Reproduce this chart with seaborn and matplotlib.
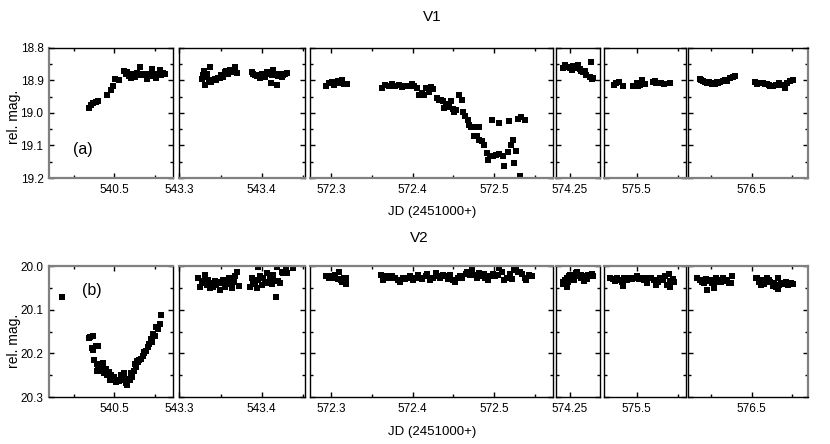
import numpy as np
import pandas as pd
import matplotlib
matplotlib.use('Agg')
import matplotlib.pyplot as plt
import seaborn as sns

# light curves (JD - 2451000, relative magnitude)
v1_t_540 = [540.469, 540.471, 540.474, 540.477, 540.480, 540.491, 540.496, 540.498, 540.501, 540.506,
            540.512, 540.514, 540.516, 540.518, 540.520, 540.522, 540.524, 540.526, 540.528, 540.530,
            540.532, 540.534, 540.536, 540.538, 540.540, 540.542, 540.544, 540.546, 540.548, 540.550,
            540.552, 540.554, 540.556, 540.558, 540.560, 540.562]
v1_m_540 = [18.985, 18.975, 18.970, 18.968, 18.963, 18.945, 18.930, 18.918, 18.895, 18.900,
            18.872, 18.880, 18.875, 18.888, 18.893, 18.880, 18.885, 18.890, 18.878, 18.885,
            18.858, 18.882, 18.884, 18.880, 18.897, 18.885, 18.880, 18.865, 18.888, 18.885,
            18.893, 18.880, 18.868, 18.885, 18.878, 18.882]

v1_t_543 = [543.327, 543.329, 543.330, 543.331, 543.333, 543.334, 543.336, 543.337, 543.339, 543.341,
            543.343, 543.345, 543.347, 543.349, 543.351, 543.353, 543.355, 543.357, 543.359, 543.362,
            543.364, 543.366, 543.368, 543.370,
            543.388, 543.390, 543.392, 543.394, 543.396, 543.398, 543.400, 543.402, 543.404, 543.406,
            543.408, 543.410, 543.411, 543.413, 543.414, 543.416, 543.417, 543.418, 543.420, 543.422,
            543.424, 543.426, 543.428, 543.431]
v1_m_543 = [18.897, 18.885, 18.873, 18.914, 18.890, 18.881, 18.900, 18.858, 18.904, 18.899,
            18.895, 18.899, 18.893, 18.894, 18.885, 18.889, 18.876, 18.872, 18.880, 18.868,
            18.875, 18.870, 18.860, 18.877,
            18.876, 18.880, 18.884, 18.888, 18.883, 18.892, 18.880, 18.885, 18.890, 18.876,
            18.882, 18.879, 18.907, 18.884, 18.868, 18.880, 18.885, 18.914, 18.888, 18.882,
            18.890, 18.884, 18.880, 18.879]

v1_t_572 = [572.294, 572.298, 572.301, 572.304, 572.308, 572.310, 572.313, 572.316, 572.320,
            572.362, 572.366, 572.371, 572.375, 572.379, 572.383, 572.387, 572.391, 572.395, 572.399,
            572.402, 572.405, 572.408, 572.411, 572.414, 572.416, 572.420, 572.422, 572.425,
            572.4294, 572.4319, 572.4348, 572.4368, 572.4389, 572.4409, 572.4429, 572.4450, 572.4470,
            572.4491, 572.4511, 572.4532, 572.4564, 572.4605, 572.4613, 572.4642, 572.4675, 572.4695,
            572.4716, 572.4744, 572.4777, 572.4810, 572.4757, 572.4785, 572.4818, 572.4847, 572.4879,
            572.4908, 572.4924, 572.4949, 572.4982, 572.5022, 572.5063, 572.5104, 572.5125, 572.5166,
            572.5207, 572.5227, 572.5247, 572.5268, 572.5317, 572.4973, 572.5063, 572.5186, 572.5288,
            572.5329, 572.5382]
v1_m_572 = [18.919, 18.909, 18.904, 18.914, 18.901, 18.909, 18.899, 18.912, 18.912,
            18.924, 18.914, 18.919, 18.911, 18.917, 18.914, 18.921, 18.919, 18.917, 18.911,
            18.919, 18.924, 18.945, 18.940, 18.945, 18.924, 18.935, 18.921, 18.927,
            18.955, 18.960, 18.962, 18.965, 18.986, 18.972, 18.978, 18.982, 18.965,
            18.989, 18.996, 18.991, 18.945, 18.960, 18.996, 19.011, 19.023, 19.036,
            19.042, 19.044, 19.044, 19.044, 19.070, 19.072, 19.082, 19.087, 19.098,
            19.123, 19.144, 19.133, 19.131, 19.128, 19.125, 19.131, 19.162, 19.121,
            19.098, 19.082, 19.154, 19.118, 19.195, 19.021, 19.031, 19.026, 19.019,
            19.013, 19.021]

v1_t_574 = [574.242, 574.244, 574.247, 574.250, 574.252, 574.254, 574.257, 574.260, 574.262, 574.264,
            574.266, 574.268, 574.270, 574.274, 574.277, 574.278, 574.276, 574.245, 574.255]
v1_m_574 = [18.863, 18.853, 18.858, 18.863, 18.868, 18.856, 18.858, 18.853, 18.866, 18.873,
            18.876, 18.870, 18.884, 18.889, 18.897, 18.894, 18.843, 18.860, 18.862]

v1_t_575 = [575.472, 575.475, 575.478, 575.483, 575.495, 575.500, 575.502, 575.504, 575.506, 575.510,
            575.520, 575.522, 575.524, 575.530, 575.533, 575.541]
v1_m_575 = [18.914, 18.909, 18.904, 18.917, 18.919, 18.909, 18.917, 18.914, 18.899, 18.911,
            18.904, 18.901, 18.907, 18.909, 18.911, 18.907]

v1_t_576 = [576.436, 576.438, 576.440, 576.442, 576.445, 576.447, 576.449, 576.451, 576.453, 576.455,
            576.457, 576.459, 576.461, 576.464, 576.467, 576.470, 576.473, 576.477, 576.479,
            576.504, 576.507, 576.510, 576.514, 576.517, 576.519, 576.521, 576.523, 576.526, 576.530,
            576.534, 576.538, 576.541, 576.544, 576.547, 576.551]
v1_m_576 = [18.897, 18.899, 18.901, 18.904, 18.907, 18.905, 18.909, 18.911, 18.907, 18.911,
            18.905, 18.907, 18.904, 18.902, 18.899, 18.901, 18.894, 18.891, 18.887,
            18.904, 18.911, 18.909, 18.907, 18.911, 18.912, 18.915, 18.917, 18.919, 18.914,
            18.907, 18.914, 18.924, 18.907, 18.901, 18.899]

v2_t_540 = [540.435, 540.468, 540.470, 540.474, 540.472, 540.474, 540.477, 540.480, 540.475, 540.478,
            540.480, 540.482, 540.484, 540.486, 540.487, 540.489, 540.491, 540.493, 540.494, 540.496,
            540.498, 540.500, 540.502, 540.504, 540.506, 540.508, 540.510, 540.512, 540.514, 540.515,
            540.517, 540.519, 540.521, 540.522, 540.524, 540.525, 540.527, 540.529, 540.531, 540.533,
            540.535, 540.537, 540.539, 540.541, 540.543, 540.545, 540.547, 540.548, 540.550, 540.552,
            540.554, 540.556, 540.558, 540.479, 540.490, 540.509, 540.520, 540.528, 540.536]
v2_m_540 = [20.072, 20.165, 20.163, 20.160, 20.188, 20.193, 20.183, 20.183, 20.215, 20.225,
            20.235, 20.228, 20.240, 20.222, 20.245, 20.235, 20.250, 20.243, 20.260, 20.250,
            20.262, 20.255, 20.265, 20.260, 20.263, 20.250, 20.255, 20.245, 20.268, 20.272,
            20.258, 20.262, 20.250, 20.255, 20.240, 20.225, 20.232, 20.220, 20.215, 20.212,
            20.205, 20.200, 20.195, 20.185, 20.178, 20.168, 20.175, 20.155, 20.160, 20.140,
            20.145, 20.132, 20.112, 20.240, 20.238, 20.262, 20.245, 20.218, 20.198]

v2_t_543 = [543.323, 543.325, 543.327, 543.329, 543.331, 543.333, 543.335, 543.337, 543.339, 543.341,
            543.343, 543.345, 543.347, 543.349, 543.351, 543.353, 543.355, 543.357, 543.360, 543.362,
            543.364, 543.366, 543.368, 543.370, 543.372,
            543.386, 543.388, 543.390, 543.392, 543.394, 543.396, 543.398, 543.400, 543.402, 543.404,
            543.406, 543.408, 543.410, 543.412, 543.414, 543.416, 543.417, 543.418, 543.420, 543.422,
            543.424, 543.426, 543.430, 543.431, 543.438, 543.396]
v2_m_543 = [20.028, 20.047, 20.034, 20.040, 20.021, 20.043, 20.032, 20.051, 20.040, 20.047,
            20.034, 20.043, 20.036, 20.055, 20.040, 20.032, 20.047, 20.036, 20.028, 20.042,
            20.051, 20.036, 20.024, 20.013, 20.045,
            20.047, 20.028, 20.036, 20.042, 20.051, 20.032, 20.024, 20.043, 20.028, 20.036,
            20.017, 20.040, 20.030, 20.042, 20.021, 20.034, 20.070, 20.002, 20.034, 20.040,
            20.013, 20.017, 20.009, 20.017, 20.005, 20.002]

v2_t_572 = [572.294, 572.298, 572.301, 572.303, 572.305, 572.308, 572.310, 572.312, 572.314, 572.316,
            572.318, 572.319,
            572.361, 572.364, 572.366, 572.369, 572.372, 572.375, 572.379, 572.382, 572.384, 572.388,
            572.391, 572.394, 572.397, 572.400, 572.403, 572.406, 572.409, 572.412, 572.416, 572.418,
            572.421, 572.425, 572.428, 572.431, 572.434, 572.437, 572.440, 572.443, 572.446, 572.449,
            572.452, 572.455, 572.458, 572.461, 572.465, 572.467, 572.470, 572.473, 572.476, 572.479,
            572.481, 572.484, 572.487, 572.489, 572.492, 572.495, 572.498, 572.501, 572.504, 572.506,
            572.510, 572.512, 572.515, 572.519, 572.522, 572.524, 572.527, 572.529, 572.531, 572.534,
            572.537, 572.539, 572.542, 572.546]
v2_m_572 = [20.024, 20.027, 20.022, 20.028, 20.021, 20.030, 20.013, 20.032, 20.036, 20.028,
            20.042, 20.027,
            20.021, 20.032, 20.028, 20.024, 20.028, 20.022, 20.027, 20.032, 20.036, 20.028,
            20.030, 20.027, 20.024, 20.032, 20.028, 20.021, 20.028, 20.030, 20.024, 20.019,
            20.032, 20.028, 20.017, 20.024, 20.028, 20.021, 20.024, 20.030, 20.021, 20.032,
            20.037, 20.028, 20.024, 20.027, 20.019, 20.013, 20.021, 20.007, 20.021, 20.028,
            20.017, 20.022, 20.019, 20.027, 20.032, 20.022, 20.019, 20.024, 20.021, 20.004,
            20.013, 20.032, 20.027, 20.019, 20.030, 20.009, 20.004, 20.013, 20.014, 20.019,
            20.028, 20.032, 20.021, 20.024]

v2_t_574 = [574.241, 574.242, 574.244, 574.246, 574.246, 574.247, 574.249, 574.250, 574.252, 574.254,
            574.255, 574.257, 574.259, 574.260, 574.263, 574.264, 574.267, 574.268, 574.271, 574.272,
            574.275, 574.277, 574.278]
v2_m_574 = [20.036, 20.042, 20.032, 20.028, 20.047, 20.037, 20.024, 20.021, 20.030, 20.027,
            20.032, 20.017, 20.013, 20.024, 20.028, 20.021, 20.034, 20.024, 20.030, 20.021,
            20.024, 20.019, 20.022]

v2_t_575 = [575.468, 575.471, 575.474, 575.476, 575.479, 575.482, 575.483, 575.485, 575.488, 575.491,
            575.494, 575.497, 575.500, 575.503, 575.506, 575.509, 575.513, 575.514, 575.517, 575.521,
            575.524, 575.526, 575.529, 575.532, 575.535, 575.537, 575.539, 575.541, 575.544, 575.546,
            575.540]
v2_m_575 = [20.028, 20.030, 20.034, 20.027, 20.032, 20.037, 20.045, 20.028, 20.032, 20.027,
            20.030, 20.028, 20.024, 20.030, 20.027, 20.032, 20.040, 20.028, 20.027, 20.032,
            20.043, 20.036, 20.028, 20.032, 20.024, 20.043, 20.019, 20.034, 20.030, 20.036,
            20.047]

v2_t_576 = [576.433, 576.436, 576.439, 576.441, 576.443, 576.445, 576.447, 576.449, 576.451, 576.453,
            576.456, 576.458, 576.460, 576.462, 576.464, 576.466, 576.469, 576.472, 576.475, 576.476,
            576.505, 576.507, 576.509, 576.511, 576.513, 576.515, 576.517, 576.519, 576.521, 576.523,
            576.526, 576.528, 576.530, 576.532, 576.533, 576.534, 576.536, 576.539, 576.542, 576.545,
            576.548, 576.551]
v2_m_576 = [20.027, 20.032, 20.036, 20.040, 20.030, 20.055, 20.034, 20.032, 20.040, 20.050,
            20.028, 20.036, 20.032, 20.037, 20.028, 20.034, 20.032, 20.040, 20.040, 20.024,
            20.027, 20.028, 20.037, 20.043, 20.032, 20.042, 20.036, 20.028, 20.032, 20.037,
            20.045, 20.040, 20.047, 20.053, 20.028, 20.043, 20.040, 20.042, 20.037, 20.043,
            20.040, 20.042]

# broken x axis: one window per night
seg_xlims = [(540.419, 540.5725), (543.2996, 543.4525), (572.2743, 572.5719),
             (574.2328, 574.2868), (575.4601, 575.5601), (576.4214, 576.5695)]
seg_major = [[540.5], [543.3, 543.4], [572.3, 572.4, 572.5], [574.25], [575.5], [576.5]]
seg_labels = [['540.5'], ['543.3', '543.4'], ['572.3', '572.4', '572.5'], ['574.25'], ['575.5'], ['576.5']]
seg_minor = [[540.45, 540.55], [543.35, 543.45], [572.35, 572.45, 572.55], [], [575.55], [576.45, 576.55]]

stars = ['V1', 'V2']
star_ylims = {'V1': (19.2, 18.8), 'V2': (20.3, 20.0)}
star_yticks = {'V1': [18.8, 18.9, 19.0, 19.1, 19.2], 'V2': [20.0, 20.1, 20.2, 20.3]}
star_ylabels = {'V1': ['18.8', '18.9', '19.0', '19.1', '19.2'], 'V2': ['20.0', '20.1', '20.2', '20.3']}

series = {
    'V1': [(v1_t_540, v1_m_540), (v1_t_543, v1_m_543), (v1_t_572, v1_m_572),
           (v1_t_574, v1_m_574), (v1_t_575, v1_m_575), (v1_t_576, v1_m_576)],
    'V2': [(v2_t_540, v2_m_540), (v2_t_543, v2_m_543), (v2_t_572, v2_m_572),
           (v2_t_574, v2_m_574), (v2_t_575, v2_m_575), (v2_t_576, v2_m_576)],
}

rows = []
for star in stars:
    for seg, (t, m) in enumerate(series[star]):
        for ti, mi in zip(t, m):
            rows.append({'star': star, 'seg': seg, 't': ti, 'mag': mi})
df = pd.DataFrame(rows)

sns.set_style('ticks')
plt.rcParams['font.family'] = ['Liberation Sans', 'DejaVu Sans']
plt.rcParams['text.color'] = 'black'

W, H = 830, 444
fig = plt.figure(figsize=(W / 100, H / 100), dpi=100)

# panel layout in pixels
col_px = [(49, 173), (179, 305), (310, 553), (556, 600), (604, 686), (688, 808)]
row_px = {'V1': (47.7, 178), 'V2': (266, 397)}
gray = '#808080'

for star in stars:
    y0, y1 = row_px[star]
    for seg, (x0, x1) in enumerate(col_px):
        ax = fig.add_axes([x0 / W, 1 - y1 / H, (x1 - x0) / W, (y1 - y0) / H])
        sub = df[(df['star'] == star) & (df['seg'] == seg)]
        sns.scatterplot(data=sub, x='t', y='mag', marker='s', s=16, color='black',
                        linewidth=0, legend=False, ax=ax)
        ax.set_xlim(seg_xlims[seg])
        ax.set_ylim(star_ylims[star])
        ax.set_xlabel('')
        ax.set_ylabel('')
        ax.set_xticks(seg_major[seg], labels=seg_labels[seg])
        ax.set_xticks(seg_minor[seg], minor=True)
        ax.set_yticks(star_yticks[star], labels=star_ylabels[star])
        ax.set_yticks([v + 0.05 for v in star_yticks[star][:-1]], minor=True)
        ax.tick_params(which='both', direction='in', top=True, right=True,
                       width=1, color='black', labelsize=8.5, labelcolor='black')
        ax.tick_params(which='major', length=3.6)
        ax.tick_params(which='minor', length=2.2)
        ax.tick_params(axis='x', pad=4.5)
        ax.tick_params(axis='y', pad=4)
        if seg > 0:
            ax.tick_params(axis='y', labelleft=False)
        for sp in ax.spines.values():
            sp.set_color('black')
            sp.set_linewidth(1.0)
        outer = ['bottom'] if star == 'V1' else ['top']
        if seg == 0:
            outer.append('left')
        if seg == len(col_px) - 1:
            outer.append('right')
        for name in outer:
            ax.spines[name].set_color(gray)
            ax.spines[name].set_linewidth(1.6)
        if seg == 0:
            if star == 'V1':
                ax.text(540.4605, 19.113, '(a)', ha='center', va='center', fontsize=11.5)
            else:
                ax.text(540.4721, 20.055, '(b)', ha='center', va='center', fontsize=11.5)

fig.text(432 / W, 1 - 17 / H, 'V1', ha='center', va='center', fontsize=11)
fig.text(419 / W, 1 - 238 / H, 'V2', ha='center', va='center', fontsize=11)
fig.text(432 / W, 1 - 212 / H, 'JD (2451000+)', ha='center', va='center', fontsize=9.5)
fig.text(432 / W, 1 - 432 / H, 'JD (2451000+)', ha='center', va='center', fontsize=9.5)
fig.text(14 / W, 1 - 117 / H, 'rel. mag.', ha='center', va='center', rotation=90, fontsize=10)
fig.text(14 / W, 1 - 341 / H, 'rel. mag.', ha='center', va='center', rotation=90, fontsize=10)

fig.savefig('out.png', dpi=100)
